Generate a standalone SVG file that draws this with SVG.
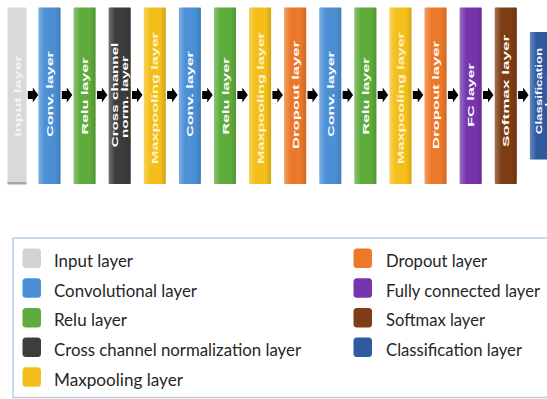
<svg xmlns="http://www.w3.org/2000/svg" width="547" height="399" viewBox="0 0 547 399">
<defs>
<style>
.bar{stroke:none}
.shade{fill:url(#shade)}
.bt{font-family:"Liberation Sans",Arial,sans-serif;font-weight:bold;font-size:9.5px;fill:#ffffff;text-anchor:middle}
.lt{font-family:Lato,"Liberation Sans",sans-serif;font-size:18px;fill:#262626}
.sw{filter:url(#soft)}
.arrow{fill:#000000}
</style>
<linearGradient id="shade" x1="0" y1="0" x2="1" y2="0">
<stop offset="0" stop-color="#ffffff" stop-opacity="0.28"/>
<stop offset="0.3" stop-color="#ffffff" stop-opacity="0"/>
<stop offset="0.75" stop-color="#000000" stop-opacity="0"/>
<stop offset="1" stop-color="#000000" stop-opacity="0.14"/>
</linearGradient>
<filter id="soft" x="-20%" y="-20%" width="140%" height="140%"><feGaussianBlur stdDeviation="0.6"/></filter>
<polygon id="arr" points="0,-4 5,-4 5,-7.5 10.5,0 5,7.5 5,4 0,4"/>
</defs>
<rect width="547" height="399" fill="#ffffff"/>

<g id="connectors" class="arrow">
<use href="#arr" x="27.8" y="95"/>
<use href="#arr" x="61.8" y="95"/>
<use href="#arr" x="96.9" y="95"/>
<use href="#arr" x="132" y="95"/>
<use href="#arr" x="167.1" y="95"/>
<use href="#arr" x="202.2" y="95"/>
<use href="#arr" x="237.3" y="95"/>
<use href="#arr" x="272.4" y="95"/>
<use href="#arr" x="307.5" y="95"/>
<use href="#arr" x="342.6" y="95"/>
<use href="#arr" x="377.7" y="95"/>
<use href="#arr" x="412.8" y="95"/>
<use href="#arr" x="447.9" y="95"/>
<use href="#arr" x="483" y="95"/>
<use href="#arr" x="518.1" y="95"/>
</g>

<g id="input">
<rect class="bar" x="7.5" y="7.5" width="19" height="176.5" rx="1" fill="#d9d9d9"/>
<rect x="7.5" y="182" width="19" height="2.5" fill="#a8a8a8"/>
<text class="bt" style="fill:#f4f4f4" transform="translate(17,96) rotate(-90) scale(1.7,1)" y="3.5">Input layer</text>
</g>
<g id="conv1">
<rect class="bar" x="38.5" y="7.5" width="22" height="176.5" rx="1" fill="#4b8fd5"/>
<rect class="shade" x="38.5" y="7.5" width="22" height="176.5"/>
<text class="bt" transform="translate(49.5,94) rotate(-90) scale(1.7,1)" y="3.5">Conv. layer</text>
</g>
<g id="relu1">
<rect class="bar" x="73.6" y="7.5" width="22" height="176.5" rx="1" fill="#5eab3c"/>
<rect class="shade" x="73.6" y="7.5" width="22" height="176.5"/>
<text class="bt" transform="translate(84.6,96) rotate(-90) scale(1.7,1)" y="3.5">Relu layer</text>
</g>
<g id="crossnorm">
<rect class="bar" x="108.7" y="7.5" width="22" height="176.5" rx="1" fill="#3c3c3c"/>
<rect class="shade" x="108.7" y="7.5" width="22" height="176.5"/>
<text class="bt" transform="translate(119.7,95) rotate(-90) scale(1.6,1)" y="-1.8">Cross channel</text>
<text class="bt" transform="translate(119.7,97) rotate(-90) scale(1.6,1)" y="8.2">norm. layer</text>
</g>
<g id="maxpool1">
<rect class="bar" x="143.8" y="7.5" width="22" height="176.5" rx="1" fill="#f4bf1a"/>
<rect class="shade" x="143.8" y="7.5" width="22" height="176.5"/>
<text class="bt" style="fill:#fdf3cf" transform="translate(154.8,98) rotate(-90) scale(1.7,1)" y="3.5">Maxpooling layer</text>
</g>
<g id="conv2">
<rect class="bar" x="178.9" y="7.5" width="22" height="176.5" rx="1" fill="#4b8fd5"/>
<rect class="shade" x="178.9" y="7.5" width="22" height="176.5"/>
<text class="bt" transform="translate(189.9,94) rotate(-90) scale(1.7,1)" y="3.5">Conv. layer</text>
</g>
<g id="relu2">
<rect class="bar" x="214" y="7.5" width="22" height="176.5" rx="1" fill="#5eab3c"/>
<rect class="shade" x="214" y="7.5" width="22" height="176.5"/>
<text class="bt" transform="translate(225,96) rotate(-90) scale(1.7,1)" y="3.5">Relu layer</text>
</g>
<g id="maxpool2">
<rect class="bar" x="249.1" y="7.5" width="22" height="176.5" rx="1" fill="#f4bf1a"/>
<rect class="shade" x="249.1" y="7.5" width="22" height="176.5"/>
<text class="bt" style="fill:#fdf3cf" transform="translate(260.1,98) rotate(-90) scale(1.7,1)" y="3.5">Maxpooling layer</text>
</g>
<g id="dropout1">
<rect class="bar" x="284.2" y="7.5" width="22" height="176.5" rx="1" fill="#ec782a"/>
<rect class="shade" x="284.2" y="7.5" width="22" height="176.5"/>
<text class="bt" transform="translate(295.2,95) rotate(-90) scale(1.75,1)" y="3.5">Dropout layer</text>
</g>
<g id="conv3">
<rect class="bar" x="319.3" y="7.5" width="22" height="176.5" rx="1" fill="#4b8fd5"/>
<rect class="shade" x="319.3" y="7.5" width="22" height="176.5"/>
<text class="bt" transform="translate(330.3,94) rotate(-90) scale(1.7,1)" y="3.5">Conv. layer</text>
</g>
<g id="relu3">
<rect class="bar" x="354.4" y="7.5" width="22" height="176.5" rx="1" fill="#5eab3c"/>
<rect class="shade" x="354.4" y="7.5" width="22" height="176.5"/>
<text class="bt" transform="translate(365.4,96) rotate(-90) scale(1.7,1)" y="3.5">Relu layer</text>
</g>
<g id="maxpool3">
<rect class="bar" x="389.5" y="7.5" width="22" height="176.5" rx="1" fill="#f4bf1a"/>
<rect class="shade" x="389.5" y="7.5" width="22" height="176.5"/>
<text class="bt" style="fill:#fdf3cf" transform="translate(400.5,98) rotate(-90) scale(1.7,1)" y="3.5">Maxpooling layer</text>
</g>
<g id="dropout2">
<rect class="bar" x="424.6" y="7.5" width="22" height="176.5" rx="1" fill="#ec782a"/>
<rect class="shade" x="424.6" y="7.5" width="22" height="176.5"/>
<text class="bt" transform="translate(435.6,95) rotate(-90) scale(1.75,1)" y="3.5">Dropout layer</text>
</g>
<g id="fc">
<rect class="bar" x="459.7" y="7.5" width="22" height="176.5" rx="1" fill="#7634ad"/>
<rect class="shade" x="459.7" y="7.5" width="22" height="176.5"/>
<text class="bt" transform="translate(470.7,95) rotate(-90) scale(1.7,1)" y="3.5">FC layer</text>
</g>
<g id="softmax">
<rect class="bar" x="494.8" y="7.5" width="22" height="176.5" rx="1" fill="#7e3c13"/>
<rect class="shade" x="494.8" y="7.5" width="22" height="176.5"/>
<text class="bt" transform="translate(505.8,91) rotate(-90) scale(1.8,1)" y="3.5">Softmax layer</text>
</g>
<g id="classification">
<rect class="bar" x="529.9" y="32" width="22" height="127.5" rx="1" fill="#2e5a9f"/>
<rect class="shade" x="529.9" y="32" width="22" height="127.5"/>
<text class="bt" transform="translate(540.9,91) rotate(-90) scale(1.4,1)" y="1">Classification</text>
<text class="bt" transform="translate(540.9,91) rotate(-90) scale(1.4,1)" y="11">layer</text>
</g>

<g id="legend">
<rect x="13" y="238" width="560" height="159.5" fill="#ffffff" stroke="#b9cde0" stroke-width="1.5"/>
<rect class="sw" x="22.5" y="248.5" width="18.5" height="19.5" rx="3.5" fill="#d3d3d3"/>
<text class="lt" x="54" y="267" textLength="79" lengthAdjust="spacingAndGlyphs">Input layer</text>
<rect class="sw" x="22.5" y="278.2" width="18.5" height="19.5" rx="3.5" fill="#4b8fd5"/>
<text class="lt" x="54" y="296.7" textLength="143" lengthAdjust="spacingAndGlyphs">Convolutional layer</text>
<rect class="sw" x="22.5" y="307.9" width="18.5" height="19.5" rx="3.5" fill="#5eab3c"/>
<text class="lt" x="54" y="326.4" textLength="73" lengthAdjust="spacingAndGlyphs">Relu layer</text>
<rect class="sw" x="22.5" y="337.6" width="18.5" height="19.5" rx="3.5" fill="#3c3c3c"/>
<text class="lt" x="54" y="356.1" textLength="247" lengthAdjust="spacingAndGlyphs">Cross channel normalization layer</text>
<rect class="sw" x="22.5" y="367.3" width="18.5" height="19.5" rx="3.5" fill="#f4bf1a"/>
<text class="lt" x="54" y="385.8" textLength="129" lengthAdjust="spacingAndGlyphs">Maxpooling layer</text>
<rect class="sw" x="353.5" y="248.5" width="18.5" height="19.5" rx="3.5" fill="#ec782a"/>
<text class="lt" x="386" y="267" textLength="101" lengthAdjust="spacingAndGlyphs">Dropout layer</text>
<rect class="sw" x="353.5" y="278.2" width="18.5" height="19.5" rx="3.5" fill="#7634ad"/>
<text class="lt" x="386" y="296.7" textLength="154" lengthAdjust="spacingAndGlyphs">Fully connected layer</text>
<rect class="sw" x="353.5" y="307.9" width="18.5" height="19.5" rx="3.5" fill="#7e3c13"/>
<text class="lt" x="386" y="326.4" textLength="99" lengthAdjust="spacingAndGlyphs">Softmax layer</text>
<rect class="sw" x="353.5" y="337.6" width="18.5" height="19.5" rx="3.5" fill="#2e5a9f"/>
<text class="lt" x="386" y="356.1" textLength="136" lengthAdjust="spacingAndGlyphs">Classification layer</text>
</g>
</svg>
